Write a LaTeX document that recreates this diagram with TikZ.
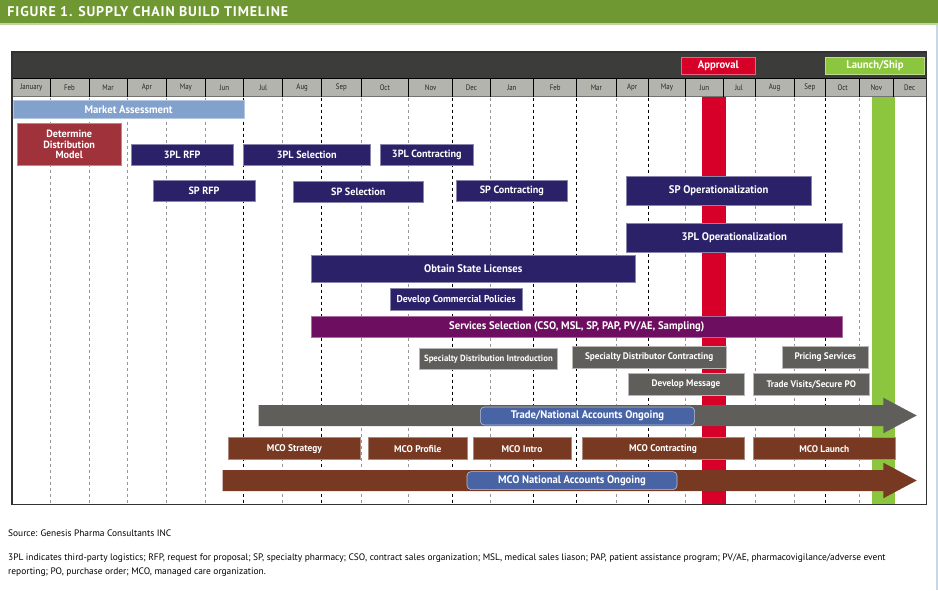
\documentclass[tikz,border=0pt]{standalone}
\usepackage{fontspec}
\setmainfont{PT Sans}
\newfontfamily\chartfont{PT Sans}[FakeStretch=0.97]
\newfontfamily\monthfont{PT Sans}[FakeStretch=0.86]
\newfontfamily\titlefont{PT Sans}[LetterSpace=6]
\usetikzlibrary{positioning,backgrounds}
\definecolor{titlegreen}{RGB}{111,151,50}
\definecolor{titleline}{RGB}{190,215,160}
\definecolor{edgeblue}{RGB}{200,215,230}
\definecolor{headdark}{RGB}{60,60,58}
\definecolor{framegray}{RGB}{50,50,50}
\definecolor{monthgray}{RGB}{180,180,175}
\definecolor{gridgray}{RGB}{150,150,150}
\definecolor{navyblue}{RGB}{42,33,104}
\definecolor{modelred}{RGB}{160,50,60}
\definecolor{marketblue}{RGB}{130,162,205}
\definecolor{servpurple}{RGB}{110,14,96}
\definecolor{taskgray}{RGB}{95,94,90}
\definecolor{mcobrown}{RGB}{120,57,35}
\definecolor{labelblue}{RGB}{72,100,165}
\definecolor{approvalred}{RGB}{215,0,40}
\definecolor{launchgreen}{RGB}{140,198,62}

\begin{document}
\begin{tikzpicture}[x=1pt, y=-1pt,
task/.style ={rectangle, anchor=north west, inner sep=0pt, align=center, text=white, line width=0.6pt, font=\chartfont\bfseries\fontsize{10.5}{11}\selectfont},
dims/.style 2 args={minimum width=#1pt, minimum height=#2pt},
navy/.style ={task, fill=navyblue, draw=navyblue!55!white},
graytask/.style ={task, fill=taskgray, draw=taskgray!45!white, font=\chartfont\bfseries\fontsize{9.5}{10}\selectfont},
mco/.style ={task, fill=mcobrown, draw=mcobrown!60!white, font=\chartfont\bfseries\fontsize{9.7}{10}\selectfont},
ongoing/.style ={task, fill=labelblue, draw=labelblue!40!white, rounded corners=4pt, font=\chartfont\bfseries\fontsize{11}{12}\selectfont},
month/.style ={font=\monthfont\fontsize{8}{9}\selectfont, text=black!85, inner sep=0pt},
grid/.style ={dash pattern=on 3pt off 3pt, line width=0.7pt},
note/.style ={font=\fontsize{9.4}{13.5}\selectfont, text=black, inner sep=0pt},
]
\useasboundingbox (0,0) rectangle (938,590);

% title bar
\fill[titlegreen] (0,0) rectangle (938,23.3);
\draw[titleline, line width=1.4pt] (0,24) -- (938,24);
\draw[edgeblue, line width=1.5pt] (936.8,24.7) -- (936.8,590);
\node (TITLE) [anchor=west, text=white, inner sep=0pt, font=\titlefont\bfseries\fontsize{14}{15}\selectfont] at (7.3,12) {FIGURE 1. SUPPLY CHAIN BUILD TIMELINE};

% chart header and months
\fill[headdark] (12,52) rectangle (926.5,78.3);
\fill[monthgray] (12,78.3) rectangle (926.5,96.7);
\draw[black, line width=0.8pt] (12,78.3) -- (926.5,78.3);
\draw[black!55, line width=1pt] (12,96.9) -- (926.5,96.9);
\foreach \xa/\xb/\mon [count=\i] in {12.7/50/January, 50/89/Feb, 89/127/Mar, 127/166.7/Apr, 166.7/205/May, 205/243.7/Jun, 243.7/282.7/Jul, 282.7/321.7/Aug, 321.7/361/Sep, 361/408.7/Oct, 408.7/452.7/Nov, 452.7/490/Dec, 490/533.7/Jan, 533.7/576.7/Feb, 576.7/616/Mar, 616/648.3/Apr, 648.3/685.7/May, 685.7/723/Jun, 723/755/Jul, 755/794/Aug, 794/825.7/Sep, 825.7/859.7/Oct, 859.7/893/Nov, 893/926.3/Dec}
{
  \draw[black, line width=0.9pt] (\xb,78.3) -- (\xb,96.7);
  \node (MON\i) [month] at ({(\xa+\xb)/2},87.5) {\mon};
}

% month grid
\foreach \x/\c in {50/gridgray, 89/gridgray, 127/gridgray, 166.7/gridgray, 205/gridgray, 243.7/black, 282.7/gridgray, 321.7/black, 361/gridgray, 408.7/gridgray, 452.7/black, 490/gridgray, 533.7/black, 576.7/black, 616/gridgray, 648.3/black, 685.7/gridgray, 723/gridgray, 755/gridgray, 794/gridgray, 825.7/black, 859.7/gridgray, 893/gridgray}
  \draw[grid, draw=\c] (\x,97.5) -- (\x,504);

% milestones
\fill[approvalred] (702.3,96.7) rectangle (725.7,504);
\fill[launchgreen] (872.3,96.7) rectangle (894.7,504);
\node (APPROVAL) [task, fill=approvalred, draw=approvalred!60!white, dims={74}{17}, font=\chartfont\bfseries\fontsize{11}{12}\selectfont] at (681,57) {Approval};
\node (LAUNCH) [task, fill=launchgreen, draw=launchgreen!60!white, dims={98.7}{17}, font=\chartfont\bfseries\fontsize{11}{12}\selectfont] at (825.3,57) {Launch/Ship};

% frame
\draw[framegray, line width=1.6pt] (12,52) rectangle (926.5,504.5);

% tasks
\node (MARKET) [task, fill=marketblue, draw=marketblue!60!white, dims={230.7}{18}, font=\chartfont\bfseries\fontsize{11}{12}\selectfont] at (13,100) {Market Assessment};
\node (MODEL) [task, fill=modelred, draw=modelred!60!white, dims={103.7}{41.7}, font=\chartfont\bfseries\fontsize{10.5}{10.8}\selectfont] at (17,123.3) {Determine\\Distribution\\Model};

\node (TPLRFP) [navy, dims={101.7}{20.7}] at (131,144.3) {3PL RFP};
\node (TPLSEL) [navy, dims={127.6}{20.7}] at (242.7,144.3) {3PL Selection};
\node (TPLCON) [navy, dims={93}{20.7}] at (380,144.3) {3PL Contracting};
\node (SPRFP) [navy, dims={102}{20.7}] at (152.7,180.3) {SP RFP};
\node (SPSEL) [navy, dims={130}{20.7}] at (293,180.8) {SP Selection};
\node (SPCON) [navy, dims={111}{20.7}] at (456,180.3) {SP Contracting};
\node (SPOPS) [navy, dims={184.7}{28.7}, font=\chartfont\bfseries\fontsize{11}{12}\selectfont] at (626,176.3) {SP Operationalization};
\node (TPLOPS) [navy, dims={216}{29}, font=\chartfont\bfseries\fontsize{11}{12}\selectfont] at (626,222.7) {3PL Operationalization};
\node (LICENSE) [navy, dims={324}{26.7}, font=\chartfont\bfseries\fontsize{11}{12}\selectfont] at (311,255) {Obtain State Licenses};
\node (POLICY) [navy, dims={131.7}{21.7}, font=\chartfont\bfseries\fontsize{10}{11}\selectfont] at (390,288.3) {Develop Commercial Policies};
\node (SERVICES) [task, fill=servpurple, draw=servpurple!60!white, dims={531}{21}, font=\chartfont\bfseries\fontsize{11}{12}\selectfont] at (311,316) {Services Selection (CSO, MSL, SP, PAP, PV/AE, Sampling)};

\node (INTRO) [graytask, dims={138.3}{21.3}, font=\chartfont\bfseries\fontsize{9}{10}\selectfont] at (419,348) {Specialty Distribution Introduction};
\node (SDCON) [graytask, dims={154.3}{21.3}] at (571.7,346.3) {Specialty Distributor Contracting};
\node (PRICING) [graytask, dims={85.4}{21.3}] at (782.3,346.3) {Pricing Services};
\node (MESSAGE) [graytask, dims={116}{22}] at (627.7,373.3) {Develop Message};
\node (VISITS) [graytask, dims={116}{22}] at (753,373.3) {Trade Visits/Secure PO};

% ongoing arrows
\fill[taskgray] (258.7,405) -- (883.3,405) -- (883.3,397.7) -- (916.7,415.5) -- (883.3,433.3) -- (883.3,426) -- (258.7,426) -- cycle;
\node (TRADE) [ongoing, dims={214.3}{18}] at (480,406.7) {Trade/National Accounts Ongoing};

\node (MCOSTRAT) [mco, dims={131.7}{22}] at (228.3,437.3) {MCO Strategy};
\node (MCOPROF) [mco, dims={98.4}{22}] at (368.3,437.3) {MCO Profile};
\node (MCOINTRO) [mco, dims={98}{22}] at (472.7,437.3) {MCO Intro};
\node (MCOCON) [mco, dims={162}{22}] at (581.7,437.3) {MCO Contracting};
\node (MCOLAUNCH) [mco, dims={142}{22}] at (753,437.3) {MCO Launch};

\fill[mcobrown] (222.7,470) -- (883.3,470) -- (883.3,462.7) -- (916.7,480.5) -- (883.3,498.3) -- (883.3,491) -- (222.7,491) -- cycle;
\node (MCONAT) [ongoing, dims={210}{18}] at (466.7,471.3) {MCO National Accounts Ongoing};

% notes
\node (SOURCE) [note, anchor=west] at (8,533) {Source: Genesis Pharma Consultants INC};
\node (ABBREV) [note, anchor=north west, align=left] at (8,554) {3PL indicates third-party logistics; RFP, request for proposal; SP, specialty pharmacy; CSO, contract sales organization; MSL, medical sales liason; PAP, patient assistance program; PV/AE, pharmacovigilance/adverse event\\reporting; PO, purchase order; MCO, managed care organization.};

\end{tikzpicture}
\end{document}
